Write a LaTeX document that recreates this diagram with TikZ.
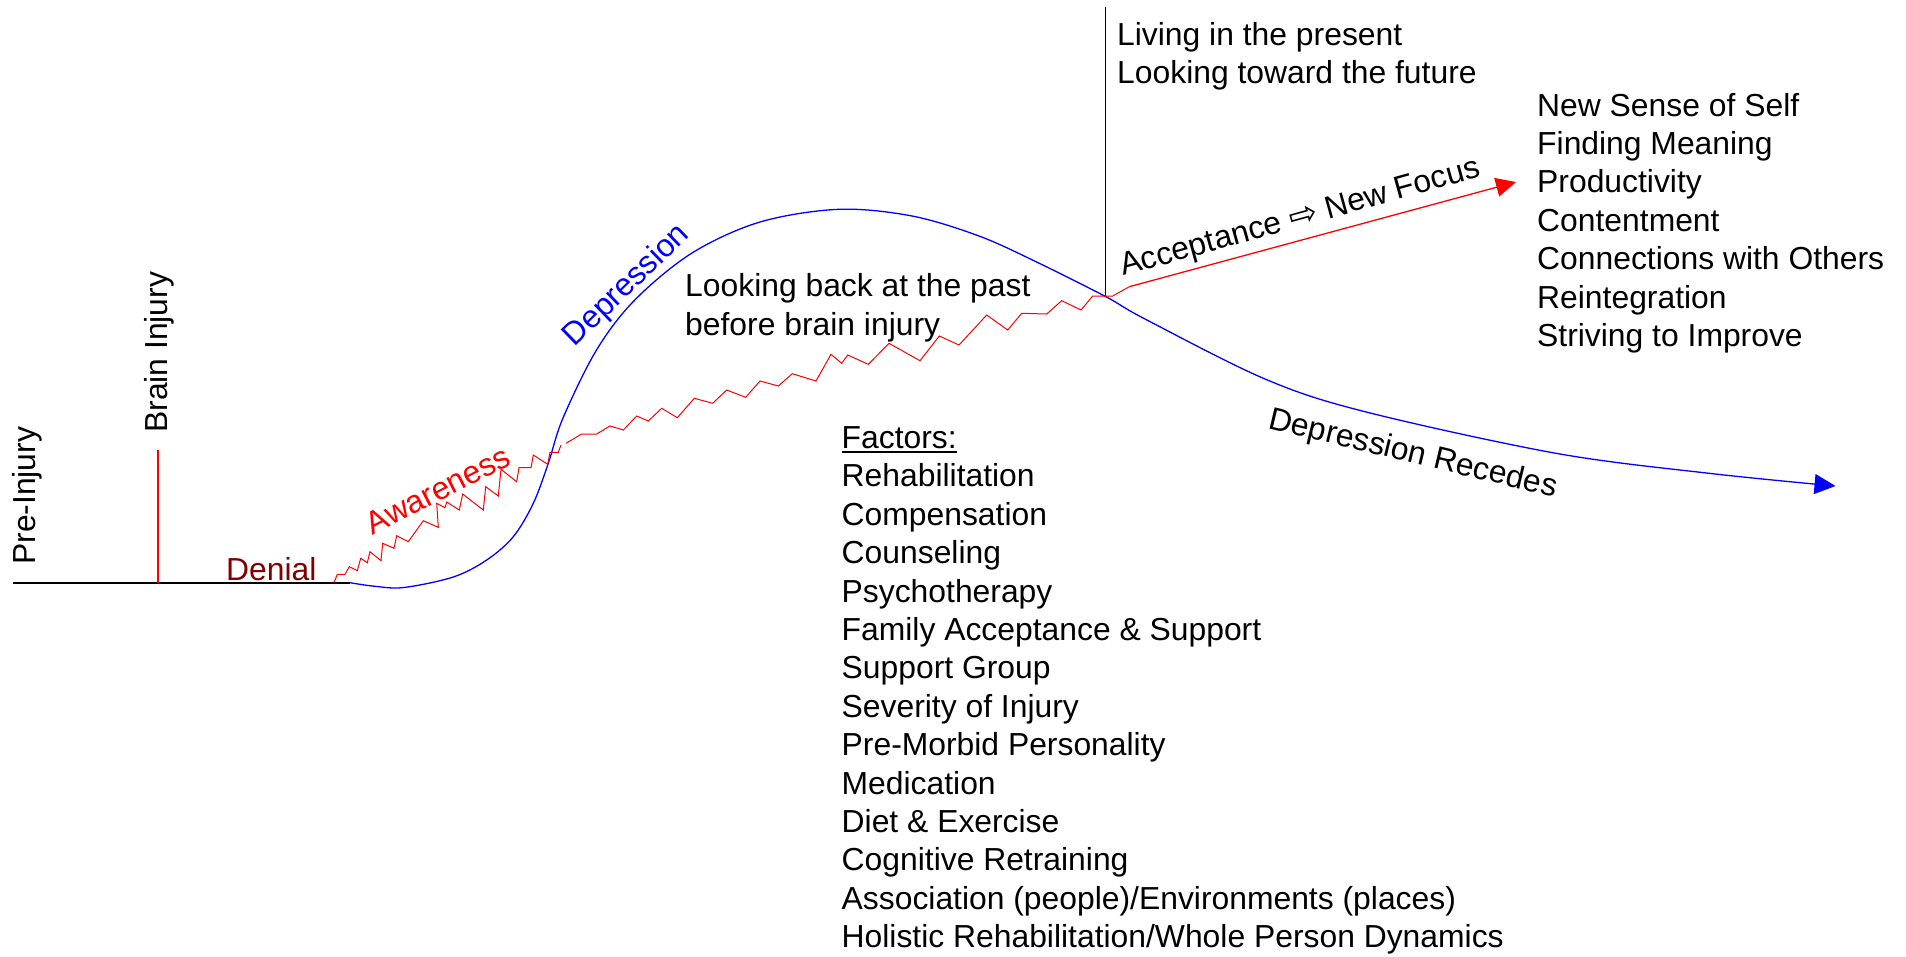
\documentclass[tikz,border=0pt]{standalone}
\usepackage{fontspec}
\setmainfont{Liberation Sans}
\newfontfamily\symfont{DejaVu Sans}
\usetikzlibrary{arrows.meta}
\definecolor{dred}{RGB}{128,0,0}
\definecolor{pred}{RGB}{255,0,0}
\definecolor{pblue}{RGB}{0,0,255}
\newcommand{\bigtxt}{\fontsize{31.85}{38.4}\selectfont}
\begin{document}
\begin{tikzpicture}[x=1pt,y=1pt,
  lbl/.style={font=\bigtxt, inner sep=0pt, anchor=base west},
  ctr/.style={font=\bigtxt, inner sep=0pt, anchor=center},
  baseln/.style={draw=black, line width=1.9pt},
  redln/.style={draw=pred, line width=1.8pt},
  zig/.style={draw=pred, line width=1pt, line join=miter},
  blueln/.style={draw=pblue, line width=1.3pt},
  blkln/.style={draw=black, line width=1.8pt}]
\useasboundingbox (0,0) rectangle (1906,-956);

% axis and markers
\coordinate (b0) at (13,-582.7);
\coordinate (b1) at (350,-582.7);
\draw[baseln] (b0) -- (b1);
\coordinate (r0) at (158.3,-450);
\coordinate (r1) at (158.3,-582.7);
\draw[redln] (r1) -- (r0);
\coordinate (v0) at (1105.5,-7);
\coordinate (v1) at (1105.5,-296.5);
\draw[blkln] (v1) -- (v0);

% blue depression curve
\draw[blueln, -{Triangle[length=21pt,width=20pt]}] plot[smooth, tension=0.55] coordinates {
 (350,-582.7) (375,-586.3) (404,-587.5) (453.3,-577) (486.7,-560) (513.3,-536.7)
 (533.3,-503.3) (548.3,-463.3) (563,-418) (596.5,-350) (634.8,-300) (692,-253)
 (760,-222) (839,-209.3) (912,-216) (979,-236) (1036.6,-262)
 (1105.5,-296.5) (1145,-319) (1265,-379) (1365,-411.7) (1556,-453.3) (1709,-473.3)
 (1835.5,-486)};

% red zigzag (awareness)
\draw[zig] plot coordinates {
 (334,-582.5) (337.3,-574.3) (345,-574.3) (349.3,-566.7) (357.3,-570.7) (360.7,-558.3)
 (367.3,-562.7) (370,-551.7) (381,-560.7) (382.7,-543.3) (394,-548.3) (396.7,-535.7)
 (408.3,-541.7) (423.3,-520.7) (438.3,-527.3) (436.7,-503.3) (445,-507.7) (446.7,-502)
 (459.3,-510) (462.7,-494) (483.3,-510) (485.7,-486.7) (498.3,-496) (501,-469.3)
 (516.7,-481.7) (519,-467.7) (531,-467.7) (533.3,-455) (547.7,-464.3) (550,-452.3)
 (558.3,-452.3) (561,-445)};
\coordinate (a0) at (1129.3,-286.7);
\coordinate (a1) at (1516,-182);
\draw[zig] plot coordinates {
 (566,-443.3) (581.7,-434) (596.7,-434) (610,-426) (623.3,-430) (636.7,-416)
 (648.3,-421) (661.7,-408.3) (677.3,-417.7) (694.3,-398.3) (712.7,-403.3) (726.7,-390)
 (745.7,-397.3) (760,-381) (778.3,-386) (792.3,-373.7) (816,-381) (831,-354.3)
 (841.7,-363.3) (847.7,-355) (868.3,-364.3) (889,-343.3) (920,-360.7) (939.3,-336)
 (959,-345) (986.7,-315) (1007.7,-330) (1021.7,-313.3) (1046.7,-314) (1061.7,-300.7)
 (1081,-310) (1092.7,-296) (1112.7,-296) (1129.3,-286.7)};
\draw[redln, line width=1.3pt, -{Triangle[length=20pt,width=19pt]}] (a0) -- (a1);

% labels
\node[lbl, rotate=90] (pre) at (35.5,-565) {Pre-Injury};
\node[lbl, rotate=90] (bi) at (167,-433) {Brain Injury};
\node[lbl, text=dred] (denial) at (226,-580.7) {Denial};
\node[ctr, text=pred, rotate=27] (aware) at (438,-490) {Awareness};
\node[ctr, text=pblue, rotate=44] (dep) at (627,-286) {Depression};
\node[lbl, rotate=-13.5] (recede) at (1267,-428) {Depression Recedes};
\node[lbl, rotate=15.5] (accept) at (1123,-276) {Acceptance {\symfont\fontsize{34}{34}\selectfont ⇨} New Focus};

\node[lbl] (past1) at (685,-296.6) {Looking back at the past};
\node[lbl] (past2) at (685,-335) {before brain injury};
\node[lbl] (pres1) at (1117,-45) {Living in the present};
\node[lbl] (pres2) at (1117,-83.4) {Looking toward the future};

\foreach \t [count=\i from 0] in {Factors:, Rehabilitation, Compensation, Counseling,
  Psychotherapy, Family Acceptance \& Support, Support Group, Severity of Injury,
  Pre-Morbid Personality, Medication, Diet \& Exercise, Cognitive Retraining,
  Association (people)/Environments (places), Holistic Rehabilitation/Whole Person Dynamics}
  \node[lbl] (fac\i) at (841.5,{-448.5-38.4*\i}) {\t};
\draw[line width=1.6pt] ([yshift=-3.5pt]fac0.base west) -- ([yshift=-3.5pt]fac0.base east);

\foreach \t [count=\i from 0] in {New Sense of Self, Finding Meaning, Productivity,
  Contentment, Connections with Others, Reintegration, Striving to Improve}
  \node[lbl] (gain\i) at (1537,{-116-38.4*\i}) {\t};
\end{tikzpicture}
\end{document}
